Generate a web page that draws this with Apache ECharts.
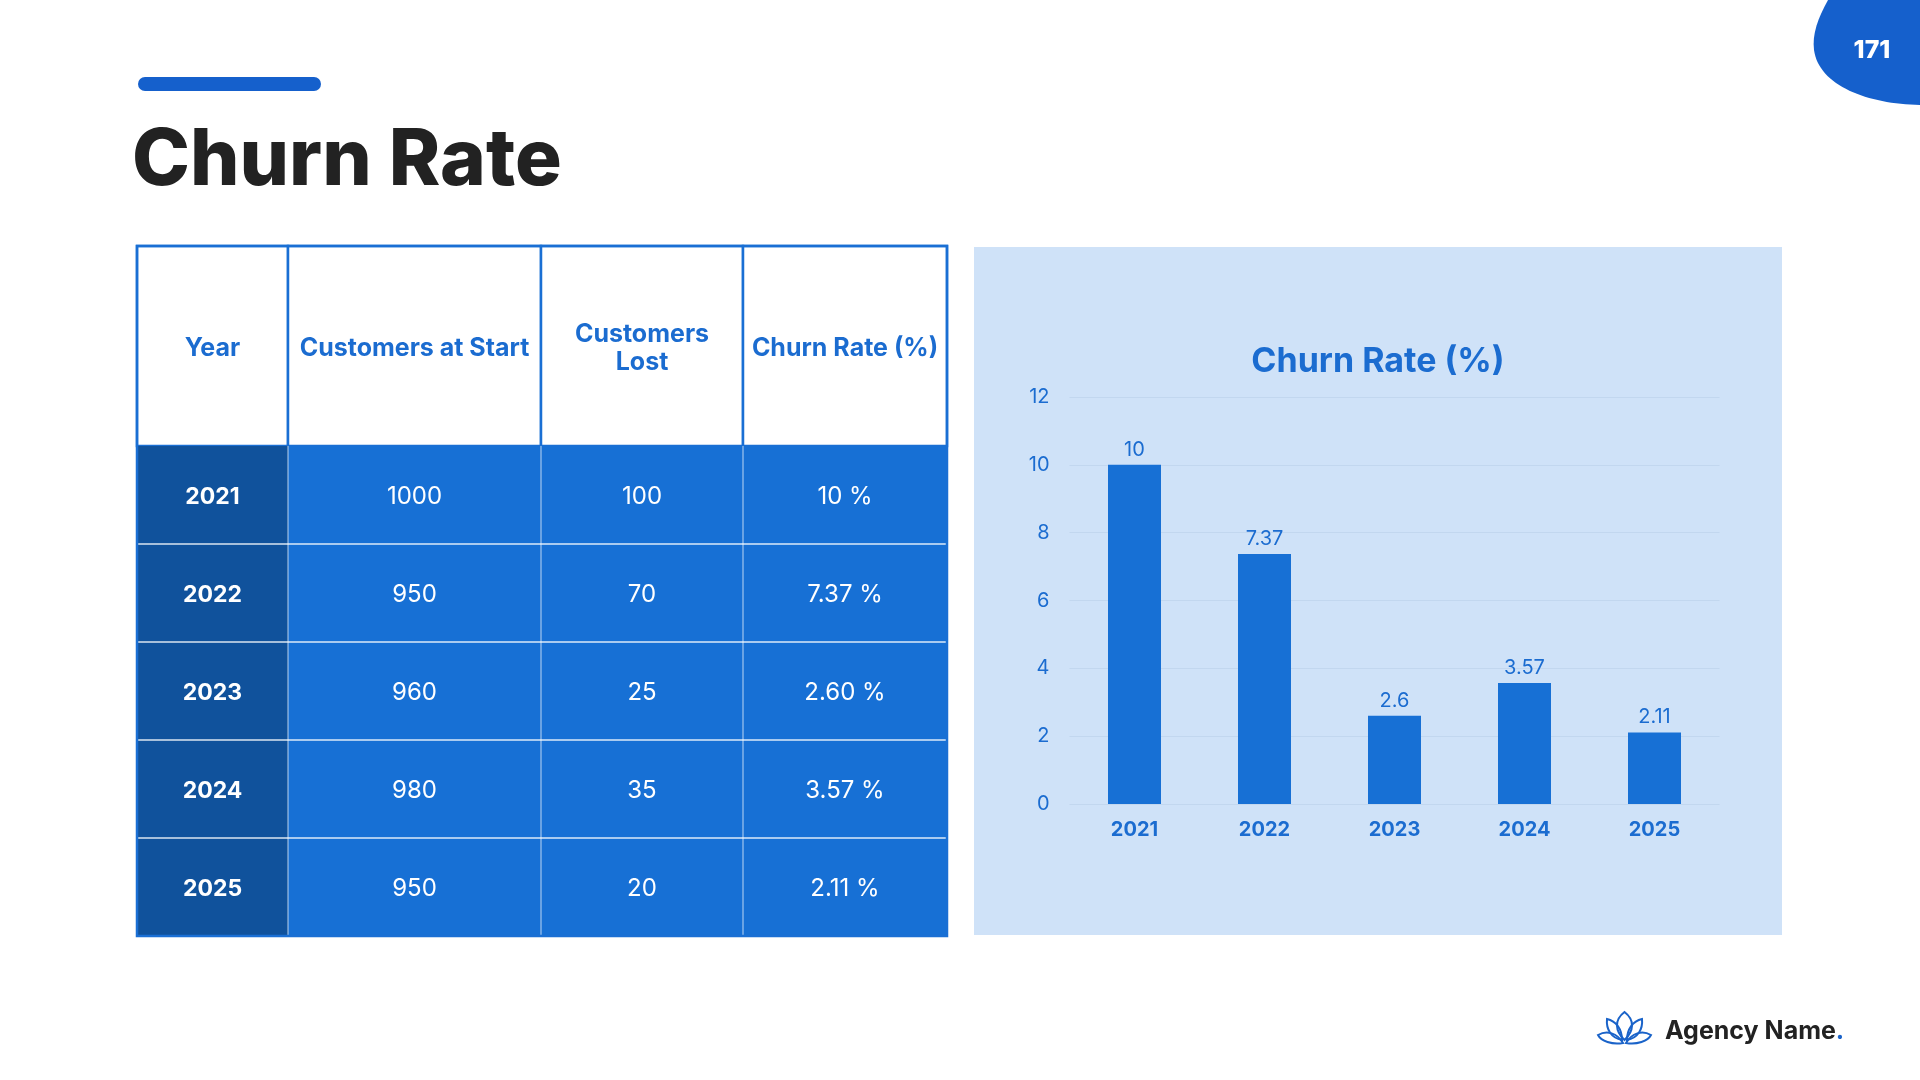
<!DOCTYPE html>
<html>
<head>
<meta charset="utf-8">
<script src="https://cdn.jsdelivr.net/npm/echarts@6/dist/echarts.min.js"></script>
<style>
html,body{margin:0;padding:0;background:#fff;}
#main{width:1920px;height:1080px;}
</style>
</head>
<body>
<div id="main"></div>
<script>
// ---- data ----
const years = ['2021', '2022', '2023', '2024', '2025'];
const customersStart = [1000, 950, 960, 980, 950];
const customersLost = [100, 70, 25, 35, 20];
const churnRate = [10, 7.37, 2.6, 3.57, 2.11];
const churnRateText = ['10 %', '7.37 %', '2.60 %', '3.57 %', '2.11 %'];
const tableHeaders = ['Year', 'Customers at Start', 'Customers\nLost', 'Churn Rate (%)'];
const pageTitle = 'Churn Rate';
const chartTitle = 'Churn Rate (%)';
const pageNumber = '171';
const brandName = 'Agency Name';

// ---- layout / style ----
const FONT = 'Inter, "Noto Sans", sans-serif';
const BLUE = '#1770D5';
const DARK_BLUE = '#10529C';
const ACCENT = '#1560CC';
const TEXT_BLUE = '#1B6CD0';
const colX = [137, 288, 541, 743, 947];
const headTop = 246, headBottom = 446, rowH = 98;

const chart = echarts.init(document.getElementById('main'), null, {renderer: 'canvas'});

const graphics = [];
// panel background
graphics.push({type: 'rect', silent: true, z: -10, shape: {x: 974, y: 247, width: 808, height: 688}, style: {fill: '#CFE2F8'}});
// accent bar
graphics.push({type: 'rect', shape: {x: 138, y: 77, width: 183, height: 14, r: 7}, style: {fill: ACCENT}});
// page title
graphics.push({type: 'text', x: 132, y: 201, style: {text: pageTitle, font: '800 78px ' + FONT, fill: '#222222', textAlign: 'left', textVerticalAlign: 'bottom'}});

// table
const tableRows = years.map((y, i) => [y, String(customersStart[i]), String(customersLost[i]), churnRateText[i]]);
for (let c = 0; c < 4; c++) {
  graphics.push({type: 'rect', shape: {x: colX[c], y: headTop, width: colX[c + 1] - colX[c], height: headBottom - headTop},
    style: {fill: '#ffffff', stroke: '#1A6FD4', lineWidth: 2.5}});
  graphics.push({type: 'text', x: (colX[c] + colX[c + 1]) / 2, y: (headTop + headBottom) / 2 + 2,
    style: {text: tableHeaders[c], font: '700 25px ' + FONT, fill: TEXT_BLUE, textAlign: 'center', textVerticalAlign: 'middle', lineHeight: 28}});
}
const bodyTop = headBottom;
const bodyBottom = bodyTop + rowH * tableRows.length;
graphics.push({type: 'rect', shape: {x: colX[0], y: bodyTop, width: colX[4] - colX[0], height: bodyBottom - bodyTop}, style: {fill: BLUE}});
graphics.push({type: 'rect', shape: {x: colX[0], y: bodyTop, width: colX[1] - colX[0], height: bodyBottom - bodyTop}, style: {fill: DARK_BLUE}});
tableRows.forEach((row, r) => {
  const cy = bodyTop + rowH * r + rowH / 2 + 2;
  row.forEach((val, c) => {
    graphics.push({type: 'text', x: (colX[c] + colX[c + 1]) / 2, y: cy,
      style: {text: val, font: (c === 0 ? '700 23px ' : '400 24px ') + FONT, fill: '#ffffff', textAlign: 'center', textVerticalAlign: 'middle'}});
  });
  if (r > 0) {
    const ly = bodyTop + rowH * r;
    graphics.push({type: 'line', shape: {x1: colX[0], y1: ly, x2: colX[4], y2: ly}, style: {stroke: 'rgba(255,255,255,0.85)', lineWidth: 1.5}});
  }
});
for (let c = 1; c < 4; c++) {
  graphics.push({type: 'line', shape: {x1: colX[c], y1: bodyTop, x2: colX[c], y2: bodyBottom}, style: {stroke: 'rgba(255,255,255,0.6)', lineWidth: 1.2}});
}
graphics.push({type: 'rect', shape: {x: colX[0], y: headTop, width: colX[4] - colX[0], height: bodyBottom - headTop}, style: {fill: 'none', stroke: '#1A6FD4', lineWidth: 2.5}});

// page number + brand text
graphics.push({type: 'text', x: 1872, y: 50, z: 10, style: {text: pageNumber, font: '800 25px ' + FONT, fill: '#ffffff', textAlign: 'center', textVerticalAlign: 'middle'}});
graphics.push({type: 'text', x: 1665, y: 1031, style: {
  text: '{a|' + brandName + '}{b|.}', textVerticalAlign: 'middle', textAlign: 'left',
  rich: {a: {font: '700 25px ' + FONT, fill: '#222222'}, b: {font: '700 25px ' + FONT, fill: '#1A63C9'}}
}});

// decorative paths (blob + lotus) drawn by a custom series
const blobPath = 'M1828 0 C1818 18 1812 34 1814 50 C1819 86 1868 104 1920 105 L1920 0 Z';
const lotusPaths = [
  'M1624.5 1040 C1615 1031 1614 1020 1624.5 1012 C1635 1020 1634 1031 1624.5 1040 Z',
  'M1622 1040 C1611 1038 1606 1029 1607 1019 C1616 1021 1622 1029 1622 1040 Z',
  'M1627 1040 C1638 1038 1643 1029 1642 1019 C1633 1021 1627 1029 1627 1040 Z',
  'M1623 1043 C1612 1045 1601 1041 1598 1035 C1607 1030 1617 1033 1623 1043 Z',
  'M1626 1043 C1637 1045 1648 1041 1651 1035 C1642 1030 1632 1033 1626 1043 Z'
];

const option = {
  backgroundColor: '#ffffff',
  animation: false,
  title: {
    text: chartTitle, left: 1373, top: 340, textAlign: 'center',
    textStyle: {fontFamily: FONT, fontWeight: 700, fontSize: 34, color: TEXT_BLUE}
  },
  grid: {left: 1069.5, top: 397, width: 650, height: 407, containLabel: false},
  xAxis: {
    type: 'category', data: years,
    axisLine: {show: false}, axisTick: {show: false},
    axisLabel: {margin: 16, fontFamily: FONT, fontWeight: 700, fontSize: 20, color: TEXT_BLUE}
  },
  yAxis: {
    type: 'value', min: 0, max: 12, interval: 2,
    axisLine: {show: false}, axisTick: {show: false},
    splitLine: {lineStyle: {color: 'rgba(140,165,200,0.18)', width: 1}},
    axisLabel: {margin: 20, fontFamily: FONT, fontWeight: 400, fontSize: 20, color: TEXT_BLUE, padding: [6, 0, 0, 0]}
  },
  series: [{
    type: 'bar', data: churnRate, barWidth: 53,
    itemStyle: {color: BLUE},
    label: {show: true, position: 'top', distance: 5, fontFamily: FONT, fontSize: 20, fontWeight: 400, color: TEXT_BLUE}
  }, {
    type: 'custom', coordinateSystem: 'none', data: [0], silent: true, z: 5,
    renderItem: function () {
      const children = [{type: 'path', shape: {pathData: blobPath}, style: {fill: ACCENT}}];
      lotusPaths.forEach(p => children.push({type: 'path', shape: {pathData: p}, style: {fill: 'none', stroke: '#1A63C9', lineWidth: 2}}));
      return {type: 'group', children: children};
    }
  }],
  graphic: {elements: graphics}
};
chart.setOption(option);
</script>
</body>
</html>
